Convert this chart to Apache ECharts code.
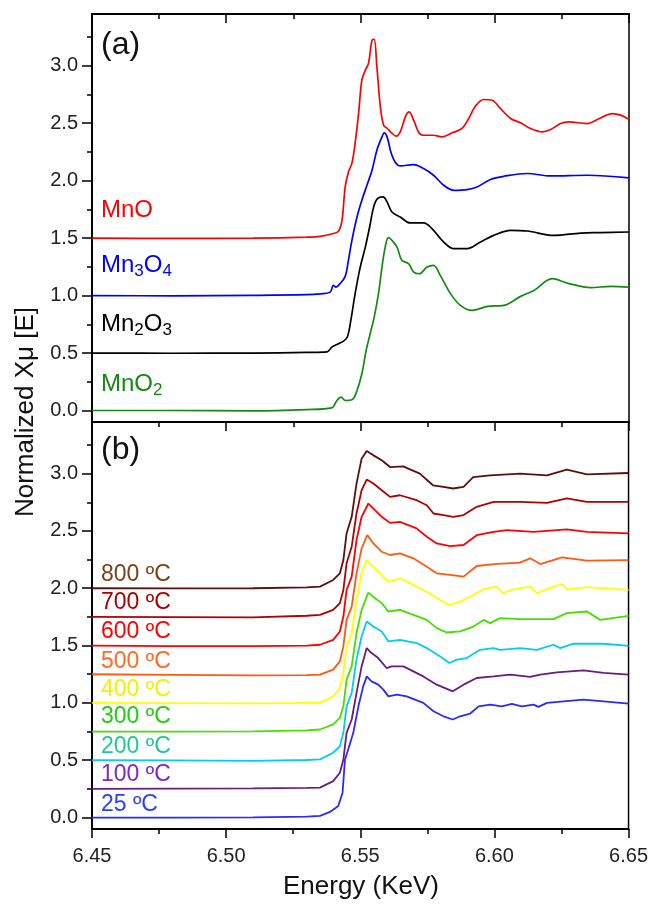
<!DOCTYPE html>
<html><head><meta charset="utf-8">
<script src="https://cdn.jsdelivr.net/npm/echarts@6/dist/echarts.min.js"></script>
<style>html,body{margin:0;padding:0;background:#fff}#c{width:651px;height:908px}</style>
</head><body><div id="c"></div>
<script>
// ---- tick labels ----
const xTicks = [6.45, 6.50, 6.55, 6.60, 6.65];
const xMinorTicks = [6.475, 6.525, 6.575, 6.625];
const yTicks = [0, 0.5, 1.0, 1.5, 2.0, 2.5, 3.0];
const yMinorTicks = [0.25, 0.75, 1.25, 1.75, 2.25, 2.75, 3.25];

// ---- panel (a) reference spectra [energy (KeV), normalized mu] ----
const mnoData = [[6.450,1.500],[6.480,1.498],[6.510,1.500],[6.530,1.508],[6.5350,1.515],[6.5399,1.540],[6.5418,1.560],[6.5431,1.655],[6.5443,1.945],[6.5455,2.076],[6.5468,2.152],[6.5480,2.326],[6.5493,2.587],[6.5505,2.875],[6.5518,2.962],[6.5530,3.023],[6.5543,3.223],[6.5551,3.229],[6.5561,2.990],[6.5574,2.642],[6.5586,2.483],[6.5599,2.456],[6.5617,2.413],[6.5633,2.387],[6.5648,2.424],[6.5667,2.555],[6.5681,2.598],[6.5698,2.526],[6.5716,2.424],[6.5735,2.395],[6.5772,2.395],[6.5804,2.381],[6.5841,2.416],[6.5878,2.454],[6.5903,2.541],[6.5928,2.648],[6.5959,2.706],[6.5990,2.700],[6.6021,2.628],[6.6059,2.541],[6.6096,2.503],[6.6133,2.454],[6.6177,2.424],[6.6208,2.445],[6.6245,2.497],[6.6276,2.511],[6.6345,2.497],[6.6382,2.532],[6.6438,2.584],[6.6469,2.570],[6.6500,2.532]];
const mn3o4Data = [[6.450,1.000],[6.480,0.998],[6.510,1.002],[6.530,1.008],[6.5350,1.015],[6.5387,1.030],[6.5399,1.089],[6.5409,1.074],[6.5424,1.104],[6.5443,1.167],[6.5455,1.307],[6.5468,1.481],[6.5487,1.684],[6.5505,1.829],[6.5524,1.960],[6.5543,2.091],[6.5561,2.265],[6.5580,2.381],[6.5588,2.416],[6.5599,2.381],[6.5613,2.250],[6.5629,2.163],[6.5648,2.128],[6.5698,2.140],[6.5735,2.105],[6.5772,2.047],[6.5810,1.960],[6.5847,1.916],[6.5897,1.922],[6.5934,1.945],[6.5984,2.010],[6.6034,2.038],[6.6121,2.062],[6.6208,2.041],[6.6345,2.047],[6.6500,2.024]];
const mn2o3Data = [[6.450,0.500],[6.480,0.498],[6.510,0.500],[6.530,0.505],[6.5375,0.510],[6.5393,0.551],[6.5412,0.575],[6.5437,0.604],[6.5451,0.639],[6.5464,0.784],[6.5480,1.017],[6.5499,1.248],[6.5518,1.422],[6.5534,1.597],[6.5549,1.771],[6.5563,1.844],[6.5584,1.858],[6.5599,1.815],[6.5617,1.727],[6.5648,1.684],[6.5685,1.632],[6.5735,1.632],[6.5766,1.583],[6.5810,1.466],[6.5847,1.408],[6.5897,1.408],[6.5947,1.466],[6.5996,1.524],[6.6059,1.568],[6.6121,1.562],[6.6220,1.524],[6.6320,1.544],[6.6394,1.548],[6.6500,1.553]];
const mno2Data = [[6.450,0.000],[6.480,0.000],[6.510,-0.003],[6.530,0.008],[6.5393,0.023],[6.5412,0.087],[6.5428,0.116],[6.5443,0.087],[6.5468,0.093],[6.5487,0.174],[6.5505,0.320],[6.5521,0.523],[6.5536,0.668],[6.5551,0.813],[6.5567,1.017],[6.5580,1.248],[6.5592,1.422],[6.5604,1.504],[6.5617,1.481],[6.5636,1.422],[6.5654,1.307],[6.5679,1.278],[6.5698,1.205],[6.5719,1.190],[6.5748,1.248],[6.5772,1.263],[6.5797,1.176],[6.5835,1.017],[6.5872,0.915],[6.5916,0.871],[6.5972,0.906],[6.6034,0.915],[6.6096,0.993],[6.6146,1.045],[6.6214,1.147],[6.6270,1.109],[6.6357,1.069],[6.6432,1.080],[6.6500,1.074]];

// ---- panel (b) in-situ spectra ----
const t25Data = [[6.450,0.000],[6.480,0.000],[6.510,0.002],[6.530,0.008],[6.5350,0.014],[6.5387,0.049],[6.5418,0.100],[6.5434,0.217],[6.5443,0.507],[6.5455,0.594],[6.5474,0.739],[6.5493,0.970],[6.5511,1.144],[6.5524,1.231],[6.5542,1.188],[6.5567,1.159],[6.5586,1.116],[6.5605,1.057],[6.5636,1.072],[6.5673,1.057],[6.5704,1.029],[6.5735,1.000],[6.5773,0.927],[6.5810,0.883],[6.5845,0.855],[6.5872,0.883],[6.5910,0.907],[6.5941,0.970],[6.5984,0.985],[6.6028,0.970],[6.6065,0.991],[6.6102,0.970],[6.6146,0.985],[6.6164,0.965],[6.6196,1.000],[6.6258,1.014],[6.6332,1.029],[6.6407,1.014],[6.6500,0.994]];
const t100Data = [[6.450,0.250],[6.480,0.252],[6.510,0.255],[6.530,0.258],[6.5350,0.261],[6.5399,0.318],[6.5424,0.391],[6.5437,0.507],[6.5449,0.739],[6.5468,0.855],[6.5486,1.087],[6.5505,1.318],[6.5524,1.478],[6.5542,1.435],[6.5567,1.391],[6.5598,1.304],[6.5617,1.318],[6.5661,1.318],[6.5698,1.275],[6.5735,1.231],[6.5785,1.159],[6.5845,1.101],[6.5885,1.159],[6.5934,1.217],[6.5997,1.231],[6.6059,1.246],[6.6133,1.226],[6.6171,1.246],[6.6233,1.266],[6.6332,1.283],[6.6407,1.261],[6.6500,1.246]];
const t200Data = [[6.450,0.500],[6.480,0.498],[6.510,0.495],[6.530,0.502],[6.5350,0.507],[6.5399,0.565],[6.5424,0.623],[6.5437,0.739],[6.5449,0.970],[6.5468,1.087],[6.5486,1.377],[6.5505,1.579],[6.5524,1.710],[6.5549,1.666],[6.5580,1.623],[6.5605,1.536],[6.5648,1.550],[6.5710,1.522],[6.5748,1.478],[6.5798,1.405],[6.5832,1.348],[6.5860,1.377],[6.5897,1.391],[6.5947,1.463],[6.5997,1.478],[6.6021,1.463],[6.6096,1.478],[6.6158,1.463],[6.6220,1.507],[6.6245,1.478],[6.6295,1.516],[6.6407,1.516],[6.6500,1.498]];
const t300Data = [[6.450,0.750],[6.480,0.750],[6.510,0.752],[6.530,0.760],[6.5350,0.768],[6.5399,0.812],[6.5424,0.870],[6.5437,0.970],[6.5449,1.201],[6.5468,1.318],[6.5486,1.609],[6.5505,1.811],[6.5530,1.962],[6.5555,1.913],[6.5580,1.870],[6.5605,1.797],[6.5648,1.811],[6.5698,1.768],[6.5748,1.724],[6.5785,1.652],[6.5822,1.614],[6.5872,1.623],[6.5922,1.666],[6.5959,1.724],[6.5984,1.696],[6.6021,1.739],[6.6096,1.730],[6.6220,1.730],[6.6270,1.783],[6.6345,1.797],[6.6394,1.724],[6.6500,1.759]];
const t400Data = [[6.450,1.000],[6.480,0.998],[6.510,0.995],[6.530,1.000],[6.5350,1.000],[6.5399,1.057],[6.5424,1.130],[6.5437,1.261],[6.5449,1.478],[6.5468,1.609],[6.5486,1.898],[6.5505,2.130],[6.5524,2.246],[6.5549,2.188],[6.5580,2.116],[6.5605,2.058],[6.5648,2.087],[6.5698,2.029],[6.5748,1.970],[6.5798,1.898],[6.5832,1.855],[6.5872,1.884],[6.5922,1.942],[6.5959,1.991],[6.6009,2.014],[6.6031,1.957],[6.6071,1.991],[6.6133,2.014],[6.6158,1.957],[6.6220,2.014],[6.6252,2.037],[6.6270,1.991],[6.6345,2.009],[6.6500,1.985]];
const t500Data = [[6.450,1.250],[6.480,1.245],[6.510,1.240],[6.530,1.242],[6.5350,1.246],[6.5399,1.290],[6.5424,1.362],[6.5437,1.492],[6.5449,1.724],[6.5468,1.840],[6.5486,2.130],[6.5505,2.348],[6.5526,2.463],[6.5549,2.391],[6.5580,2.318],[6.5611,2.290],[6.5648,2.304],[6.5698,2.261],[6.5748,2.188],[6.5785,2.130],[6.5835,2.116],[6.5885,2.101],[6.5934,2.194],[6.5997,2.211],[6.6096,2.223],[6.6133,2.261],[6.6171,2.211],[6.6252,2.270],[6.6345,2.240],[6.6500,2.246]];
const t600Data = [[6.450,1.500],[6.480,1.495],[6.510,1.495],[6.530,1.500],[6.5350,1.507],[6.5399,1.550],[6.5424,1.623],[6.5437,1.753],[6.5449,1.985],[6.5468,2.101],[6.5486,2.420],[6.5505,2.623],[6.5530,2.739],[6.5555,2.681],[6.5580,2.623],[6.5611,2.570],[6.5648,2.579],[6.5710,2.522],[6.5748,2.449],[6.5785,2.391],[6.5835,2.368],[6.5885,2.377],[6.5934,2.463],[6.5997,2.492],[6.6046,2.507],[6.6146,2.492],[6.6270,2.513],[6.6345,2.492],[6.6500,2.478]];
const t700Data = [[6.450,1.750],[6.480,1.748],[6.510,1.745],[6.530,1.760],[6.5350,1.768],[6.5399,1.811],[6.5424,1.870],[6.5437,1.985],[6.5449,2.217],[6.5468,2.362],[6.5486,2.652],[6.5505,2.855],[6.5524,2.948],[6.5549,2.913],[6.5580,2.855],[6.5611,2.797],[6.5648,2.811],[6.5710,2.768],[6.5748,2.724],[6.5773,2.652],[6.5810,2.638],[6.5847,2.623],[6.5885,2.638],[6.5934,2.710],[6.5997,2.753],[6.6096,2.753],[6.6196,2.744],[6.6270,2.783],[6.6345,2.753],[6.6500,2.753]];
const t800Data = [[6.450,2.000],[6.480,1.998],[6.510,2.000],[6.530,2.008],[6.5350,2.014],[6.5399,2.072],[6.5424,2.130],[6.5437,2.246],[6.5449,2.478],[6.5468,2.623],[6.5486,2.913],[6.5505,3.130],[6.5524,3.197],[6.5549,3.159],[6.5580,3.116],[6.5611,3.057],[6.5660,3.063],[6.5722,3.000],[6.5771,2.898],[6.5810,2.884],[6.5846,2.870],[6.5885,2.884],[6.5921,2.970],[6.5984,2.985],[6.6096,3.000],[6.6196,2.985],[6.6270,3.035],[6.6345,2.994],[6.6500,3.005]];

const refNames = ['MnO', 'Mn3O4', 'Mn2O3', 'MnO2'];
const refColors = ['#ff0000', '#0000ff', '#000000', '#138a13'];
const refSeries = [mnoData, mn3o4Data, mn2o3Data, mno2Data];

const tempNames = ['25 ºC', '100 ºC', '200 ºC', '300 ºC', '400 ºC', '500 ºC', '600 ºC', '700 ºC', '800 ºC'];
const tempColors = ['#2a2aff', '#6a1b7e', '#00ccf5', '#44e000', '#ffff00', '#ff5a10', '#ff0000', '#b00000', '#5e0e0e'];
const tempLabelColors = ['#2a40ff', '#7a28c8', '#20c896', '#22cc10', '#f2f000', '#ff6a20', '#ff0000', '#a80000', '#7a4018'];
const tempSeries = [t25Data, t100Data, t200Data, t300Data, t400Data, t500Data, t600Data, t700Data, t800Data];

const FONT = 'Arial, "Liberation Sans", sans-serif';
const chart = echarts.init(document.getElementById('c'), null, { renderer: 'canvas' });

const grids = [
  { left: 92, right: 22, top: 14, height: 408, show: true, borderColor: '#000', borderWidth: 1.5, backgroundColor: 'transparent' },
  { left: 92, right: 22, top: 422, height: 407, show: true, borderColor: '#000', borderWidth: 1.5, backgroundColor: 'transparent' }
];

function xAxis(grid, pos, vals, len, inside, labels) {
  return {
    type: 'value', gridIndex: grid, position: pos, min: 6.45, max: 6.65,
    axisLine: { show: true, onZero: false, lineStyle: { color: '#000', width: 1.5 } },
    axisTick: { show: true, customValues: vals, inside: inside, length: len, lineStyle: { color: '#000', width: 1.5 } },
    axisLabel: labels ? { show: true, customValues: xTicks, formatter: v => v.toFixed(2), color: '#222', fontSize: 20, fontFamily: FONT, margin: 17 } : { show: false },
    splitLine: { show: false }
  };
}
function yAxis(grid, vals, len, labels) {
  return {
    type: 'value', gridIndex: grid, position: 'left', min: -0.1, max: 3.45,
    axisLine: { show: true, onZero: false, lineStyle: { color: '#000', width: 1.5 } },
    axisTick: { show: true, customValues: vals, inside: false, length: len, lineStyle: { color: '#000', width: 1.5 } },
    axisLabel: labels ? { show: true, customValues: yTicks, formatter: v => v.toFixed(1), color: '#222', fontSize: 20, fontFamily: FONT, margin: 14 } : { show: false },
    splitLine: { show: false }
  };
}

const xAxes = [
  xAxis(0, 'bottom', xTicks, 9, false, false),
  xAxis(0, 'bottom', xMinorTicks, 5, false, false),
  xAxis(0, 'top', xTicks, 9, true, false),
  xAxis(0, 'top', xMinorTicks, 5, true, false),
  xAxis(1, 'bottom', xTicks, 9, false, true),
  xAxis(1, 'bottom', xMinorTicks, 5, false, false)
];
const yAxes = [
  yAxis(0, yTicks, 10, true),
  yAxis(0, yMinorTicks, 5, false),
  yAxis(1, yTicks, 10, true),
  yAxis(1, yMinorTicks, 5, false)
];

const series = [];
refSeries.forEach((d, i) => series.push({
  name: refNames[i], type: 'line', xAxisIndex: 0, yAxisIndex: 0, data: d,
  showSymbol: false, smooth: 0.35, lineStyle: { color: refColors[i], width: 1.7 }, z: 3
}));
tempSeries.forEach((d, i) => series.push({
  name: tempNames[i], type: 'line', xAxisIndex: 4, yAxisIndex: 2, data: d,
  showSymbol: false, smooth: false, lineStyle: { color: tempColors[i], width: 1.8 }, z: 3
}));

const sub = { fontSize: 17, lineHeight: 10, verticalAlign: 'bottom', fontFamily: FONT };
function refLabel(text, color, y) {
  return {
    type: 'text', left: 101, top: y - 15, z: 10,
    style: {
      text: text, fill: color, font: '24px ' + FONT,
      rich: {
        n: { fontSize: 24, lineHeight: 30, fontFamily: FONT, fill: color, color: color },
        s: Object.assign({ fill: color, color: color }, sub)
      }
    }
  };
}
const tempLabelY = [805, 775, 747, 717, 690, 662, 632, 603, 575];

const graphic = [
  { type: 'text', left: 101, top: 29, style: { text: '(a)', fill: '#111', font: '32px ' + FONT } },
  { type: 'text', left: 101, top: 434, style: { text: '(b)', fill: '#111', font: '32px ' + FONT } },
  refLabel('{n|MnO}', refColors[0], 213),
  refLabel('{n|Mn}{s|3}{n|O}{s|4}', '#0000ff', 268),
  refLabel('{n|Mn}{s|2}{n|O}{s|3}', '#000000', 327),
  refLabel('{n|MnO}{s|2}', refColors[3], 387),
  {
    type: 'text', x: 26, y: 412, rotation: Math.PI / 2,
    style: { text: 'Normalized Xμ [E]', fill: '#111', font: '26px ' + FONT, align: 'center', verticalAlign: 'middle' }
  },
  {
    type: 'text', x: 361, y: 887,
    style: { text: 'Energy (KeV)', fill: '#111', font: '26px ' + FONT, align: 'center', verticalAlign: 'middle' }
  }
];
tempNames.forEach((n, i) => graphic.push({
  type: 'text', x: 101, y: tempLabelY[i], z: 10,
  style: { text: n, fill: tempLabelColors[i], font: '23px ' + FONT, verticalAlign: 'middle' }
}));

chart.setOption({
  animation: false,
  backgroundColor: '#fff',
  grid: grids,
  xAxis: xAxes,
  yAxis: yAxes,
  series: series,
  graphic: graphic
});
</script></body></html>
